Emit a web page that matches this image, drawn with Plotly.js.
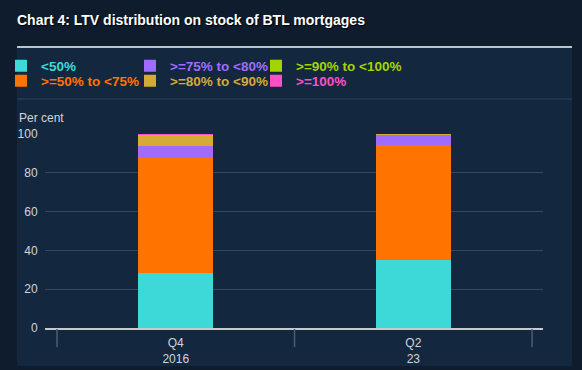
<!DOCTYPE html>
<html>
<head>
<meta charset="utf-8">
<script src="https://cdn.plot.ly/plotly-3.0.1.min.js"></script>
<style>html,body{margin:0;padding:0;background:#0e1c2e;}#chart{width:582px;height:370px;}</style>
</head>
<body>
<div id="chart"></div>
<script>
// ---- data ----
var categories = ["Q4<br>2016", "Q2<br>23"];
var seriesNames = ["<50%", ">=50% to <75%", ">=75% to <80%", ">=80% to <90%", ">=90% to <100%", ">=100%"];
var lt50      = [28.2, 35.2];
var from50to75 = [59.5, 58.9];
var from75to80 = [6.2, 5.3];
var from80to90 = [5.2, 0.5];
var from90to100 = [0.6, 0.05];
var ge100     = [0.3, 0.05];
var yTicks = [0, 20, 40, 60, 80, 100];

var seriesValues = [lt50, from50to75, from75to80, from80to90, from90to100, ge100];
var colors = ["#3dd8d8", "#ff7300", "#a06cff", "#d4ab35", "#a4d400", "#ff4fc6"];

// ---- geometry helpers (pixel -> paper) ----
var W = 582, H = 370;
var M = {l: 45, r: 39, t: 134, b: 42, autoexpand: false};
var PW = W - M.l - M.r, PH = H - M.t - M.b;
function px(x) { return (x - M.l) / PW; }
function py(y) { return (H - M.b - y) / PH; }

// legend slots: [x of legend box, y centre of row]
var legendPos = [[1, 66], [1, 81], [130, 66], [130, 81], [256, 66], [256, 81]];

var traces = seriesNames.map(function (n, i) {
  return {
    type: "bar",
    name: n,
    x: categories,
    y: seriesValues[i],
    width: 0.316,
    marker: {color: colors[i], line: {width: 0}},
    legend: i === 0 ? "legend" : "legend" + (i + 1),
    hoverinfo: "skip"
  };
});

// category boundary tick marks below the axis
var boundaryTicks = [-0.5, 0.5, 1.5].map(function (b) {
  return {type: "line", xref: "x", yref: "paper",
          x0: b, x1: b, y0: py(329), y1: py(347),
          line: {color: "#4b5d73", width: 1.5}};
});

var layout = {
  width: W, height: H,
  margin: M,
  paper_bgcolor: "#0e1c2e",
  plot_bgcolor: "rgba(0,0,0,0)",
  barmode: "stack",
  font: {family: "Liberation Sans, Arial, sans-serif", color: "#d0d5db", size: 12},
  title: {
    text: "<b>Chart 4: LTV distribution on stock of BTL mortgages</b>",
    xref: "container", yref: "container",
    x: 17 / W, xanchor: "left",
    y: 1 - 20 / H, yanchor: "middle",
    font: {size: 14, color: "#ffffff", shadow: "1px 1px 1px #000000"}
  },
  xaxis: {
    type: "category",
    range: [-0.5505, 1.546],
    ticks: "",
    ticklabelstandoff: 3,
    showline: true, linecolor: "#c5cad0", linewidth: 2,
    showgrid: false, zeroline: false,
    tickfont: {size: 12, color: "#d0d5db"},
    fixedrange: true
  },
  yaxis: {
    range: [0, 100],
    tickvals: yTicks,
    showgrid: true, gridcolor: "#34485f", gridwidth: 1,
    zeroline: false, showline: false,
    ticks: "outside", ticklen: 4, tickcolor: "rgba(0,0,0,0)",
    tickfont: {size: 12, color: "#d0d5db"}
  },
  yaxis2: {
    overlaying: "y", side: "right", anchor: "x",
    range: [0, 100],
    tickvals: yTicks,
    showgrid: false, zeroline: false, showline: false,
    ticks: "outside", ticklen: 18, tickcolor: "rgba(0,0,0,0)",
    tickfont: {size: 12, color: "#d0d5db"}
  },
  showlegend: true,
  annotations: [{
    text: "Per cent",
    xref: "paper", yref: "paper",
    x: px(17), y: py(118),
    xanchor: "left", yanchor: "middle",
    showarrow: false,
    font: {size: 12, color: "#d0d5db"}
  }],
  shapes: [
    {type: "rect", xref: "paper", yref: "paper", layer: "below",
     x0: px(17), x1: px(572), y0: py(366), y1: py(47),
     fillcolor: "#13283f", line: {width: 0}},
    {type: "line", xref: "paper", yref: "paper", layer: "below",
     x0: px(17), x1: px(572), y0: py(47), y1: py(47),
     line: {color: "#b9c4cf", width: 2}},
    {type: "line", xref: "paper", yref: "paper", layer: "below",
     x0: px(17), x1: px(572), y0: py(99), y1: py(99),
     line: {color: "#2f4560", width: 1}}
  ].concat(boundaryTicks)
};

seriesNames.forEach(function (n, i) {
  var key = i === 0 ? "legend" : "legend" + (i + 1);
  layout[key] = {
    xref: "container", yref: "container",
    x: legendPos[i][0] / W, xanchor: "left",
    y: 1 - legendPos[i][1] / H, yanchor: "middle",
    bgcolor: "rgba(0,0,0,0)", borderwidth: 0,
    font: {size: 13.5, color: colors[i], weight: "bold"},
    itemclick: false, itemdoubleclick: false
  };
});

Plotly.newPlot("chart", traces, layout, {displayModeBar: false, staticPlot: true});
</script>
</body>
</html>
